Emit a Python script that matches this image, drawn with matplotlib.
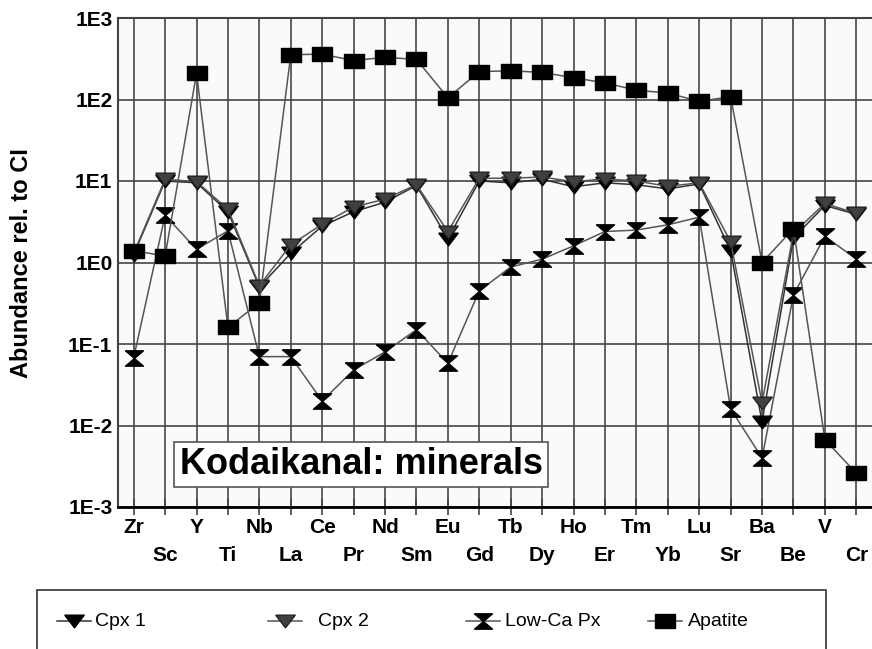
import matplotlib
matplotlib.use('Agg')
import matplotlib.pyplot as plt
import numpy as np
from matplotlib.patches import Rectangle
from matplotlib.lines import Line2D

plt.rcParams['font.family'] = ['Liberation Sans', 'DejaVu Sans']

# element order along the x axis
elements = ['Zr', 'Sc', 'Y', 'Ti', 'Nb', 'La', 'Ce', 'Pr', 'Nd', 'Sm', 'Eu', 'Gd',
            'Tb', 'Dy', 'Ho', 'Er', 'Tm', 'Yb', 'Lu', 'Sr', 'Ba', 'Be', 'V', 'Cr']

# abundances normalised to CI chondrite
cpx1 = [1.25, 10, 9.5, 4.2, 0.5, 1.3, 2.8, 4.2, 5.5, 8.8, 1.95, 10, 9.5, 10.5,
        8.5, 9.5, 9.0, 8.0, 9.2, 1.4, 0.011, 2.0, 5.0, 3.9]
cpx2 = [1.3, 10.5, 9.8, 4.5, 0.52, 1.65, 2.95, 4.8, 6.0, 9.0, 2.4, 10.8, 10.8, 11.2,
        9.8, 10.6, 10.0, 8.6, 9.5, 1.8, 0.019, 2.3, 5.3, 4.0]
lowca = [0.068, 3.8, 1.45, 2.45, 0.07, 0.07, 0.02, 0.048, 0.08, 0.15, 0.058, 0.45,
         0.88, 1.1, 1.6, 2.4, 2.5, 2.9, 3.6, 0.016, 0.004, 0.40, 2.1, 1.1]
apatite = [1.4, 1.2, 210, 0.16, 0.32, 355, 360, 300, 330, 310, 105, 220, 225, 215,
           185, 160, 130, 120, 95, 108, 1.0, 2.6, 0.0067, 0.0026]

series_names = ['Cpx 1', 'Cpx 2', 'Low-Ca Px', 'Apatite']

ytick_vals = [1e-3, 1e-2, 1e-1, 1, 10, 100, 1000]
ytick_labels = ['1E-3', '1E-2', '1E-1', '1E0', '1E1', '1E2', '1E3']

# custom marker shapes (flattened like the original)
tri_down = [(-1, 0.65), (1, 0.65), (0, -0.65), (-1, 0.65)]
hourglass = [(-1, 0.85), (1, 0.85), (0, 0), (1, -0.85), (-1, -0.85), (0, 0), (-1, 0.85)]
rect = [(-1, -0.7), (1, -0.7), (1, 0.7), (-1, 0.7), (-1, -0.7)]

styles = {
    'Cpx 1': dict(color='#333333', marker=tri_down, ms=14, mfc='black', mec='black'),
    'Cpx 2': dict(color='#555555', marker=tri_down, ms=14, mfc='#404040', mec='#222222'),
    'Low-Ca Px': dict(color='#555555', marker=hourglass, ms=13, mfc='black', mec='black'),
    'Apatite': dict(color='#555555', marker=rect, ms=15, mfc='black', mec='black'),
}

fig = plt.figure(figsize=(8.72, 6.49), dpi=100)
ax = fig.add_axes([118 / 872, 1 - 507 / 649, 754 / 872, 489 / 649])
ax.set_facecolor('#fafafa')

x = np.arange(len(elements))

ax.plot(x, lowca, lw=1.1, zorder=3, **styles['Low-Ca Px'])
ax.plot(x, cpx1, lw=1.1, zorder=4, **styles['Cpx 1'])
ax.plot(x, cpx2, lw=1.1, zorder=5, **styles['Cpx 2'])
ax.plot(x, apatite, lw=1.1, zorder=6, **styles['Apatite'])

ax.set_yscale('log')
ax.set_ylim(1e-3, 1e3)
ax.set_xlim(-0.5, len(elements) - 0.5)
ax.set_yticks(ytick_vals)
ax.set_yticklabels(ytick_labels, fontsize=15, fontweight='bold')
ax.yaxis.set_minor_locator(matplotlib.ticker.NullLocator())
ax.tick_params(axis='y', length=0, pad=4)

# two staggered rows of element labels
ax.set_xticks(x[::2])
ax.set_xticklabels(elements[::2], fontsize=15, fontweight='bold')
ax.set_xticks(x[1::2], minor=True)
ax.set_xticklabels(elements[1::2], minor=True, fontsize=15, fontweight='bold')
ax.tick_params(axis='x', which='both', direction='inout', length=12, width=1.2,
               color='#444444')
ax.tick_params(axis='x', which='major', pad=2)
ax.tick_params(axis='x', which='minor', pad=22)

ax.grid(True, which='both', axis='x', color='#555555', lw=1.3)
ax.grid(True, which='major', axis='y', color='#444444', lw=1.2)
ax.set_axisbelow(True)

for side in ['top', 'left']:
    ax.spines[side].set_color('#444444')
    ax.spines[side].set_linewidth(1.5)
ax.spines['right'].set_visible(False)
ax.spines['bottom'].set_color('black')
ax.spines['bottom'].set_linewidth(2)

fig.text(22 / 872, 1 - 263 / 649, 'Abundance rel. to CI', rotation=90,
         ha='center', va='center', fontsize=17, fontweight='bold')

ax.text(0.3225, 0.087, 'Kodaikanal: minerals', transform=ax.transAxes,
        ha='center', va='center', fontsize=26, fontweight='bold', zorder=10,
        bbox=dict(boxstyle='square,pad=0.15', fc='white', ec='#555555', lw=1.2))

# legend box (cut off at the bottom like the original)
fig.patches.append(Rectangle((37 / 872, -0.05), (826 - 37) / 872, 0.05 + 59 / 649,
                             transform=fig.transFigure, fc='white', ec='#333333',
                             lw=1.2))
leg_line_x = [57, 268, 466, 648]
leg_text_x = [95, 318, 505, 688]
leg_y = 1 - 621 / 649
for name, lx, tx in zip(series_names, leg_line_x, leg_text_x):
    st = dict(styles[name])
    fig.lines.append(Line2D([lx / 872, (lx + 34) / 872], [leg_y, leg_y],
                            transform=fig.transFigure, lw=1.1, color=st.pop('color'),
                            markevery=[], zorder=5))
    fig.lines.append(Line2D([(lx + 17) / 872], [leg_y], transform=fig.transFigure,
                            ls='none', zorder=6, **{k: v for k, v in st.items()}))
    fig.text(tx / 872, leg_y, name, ha='left', va='center', fontsize=14)

fig.savefig('out.png', dpi=100)
